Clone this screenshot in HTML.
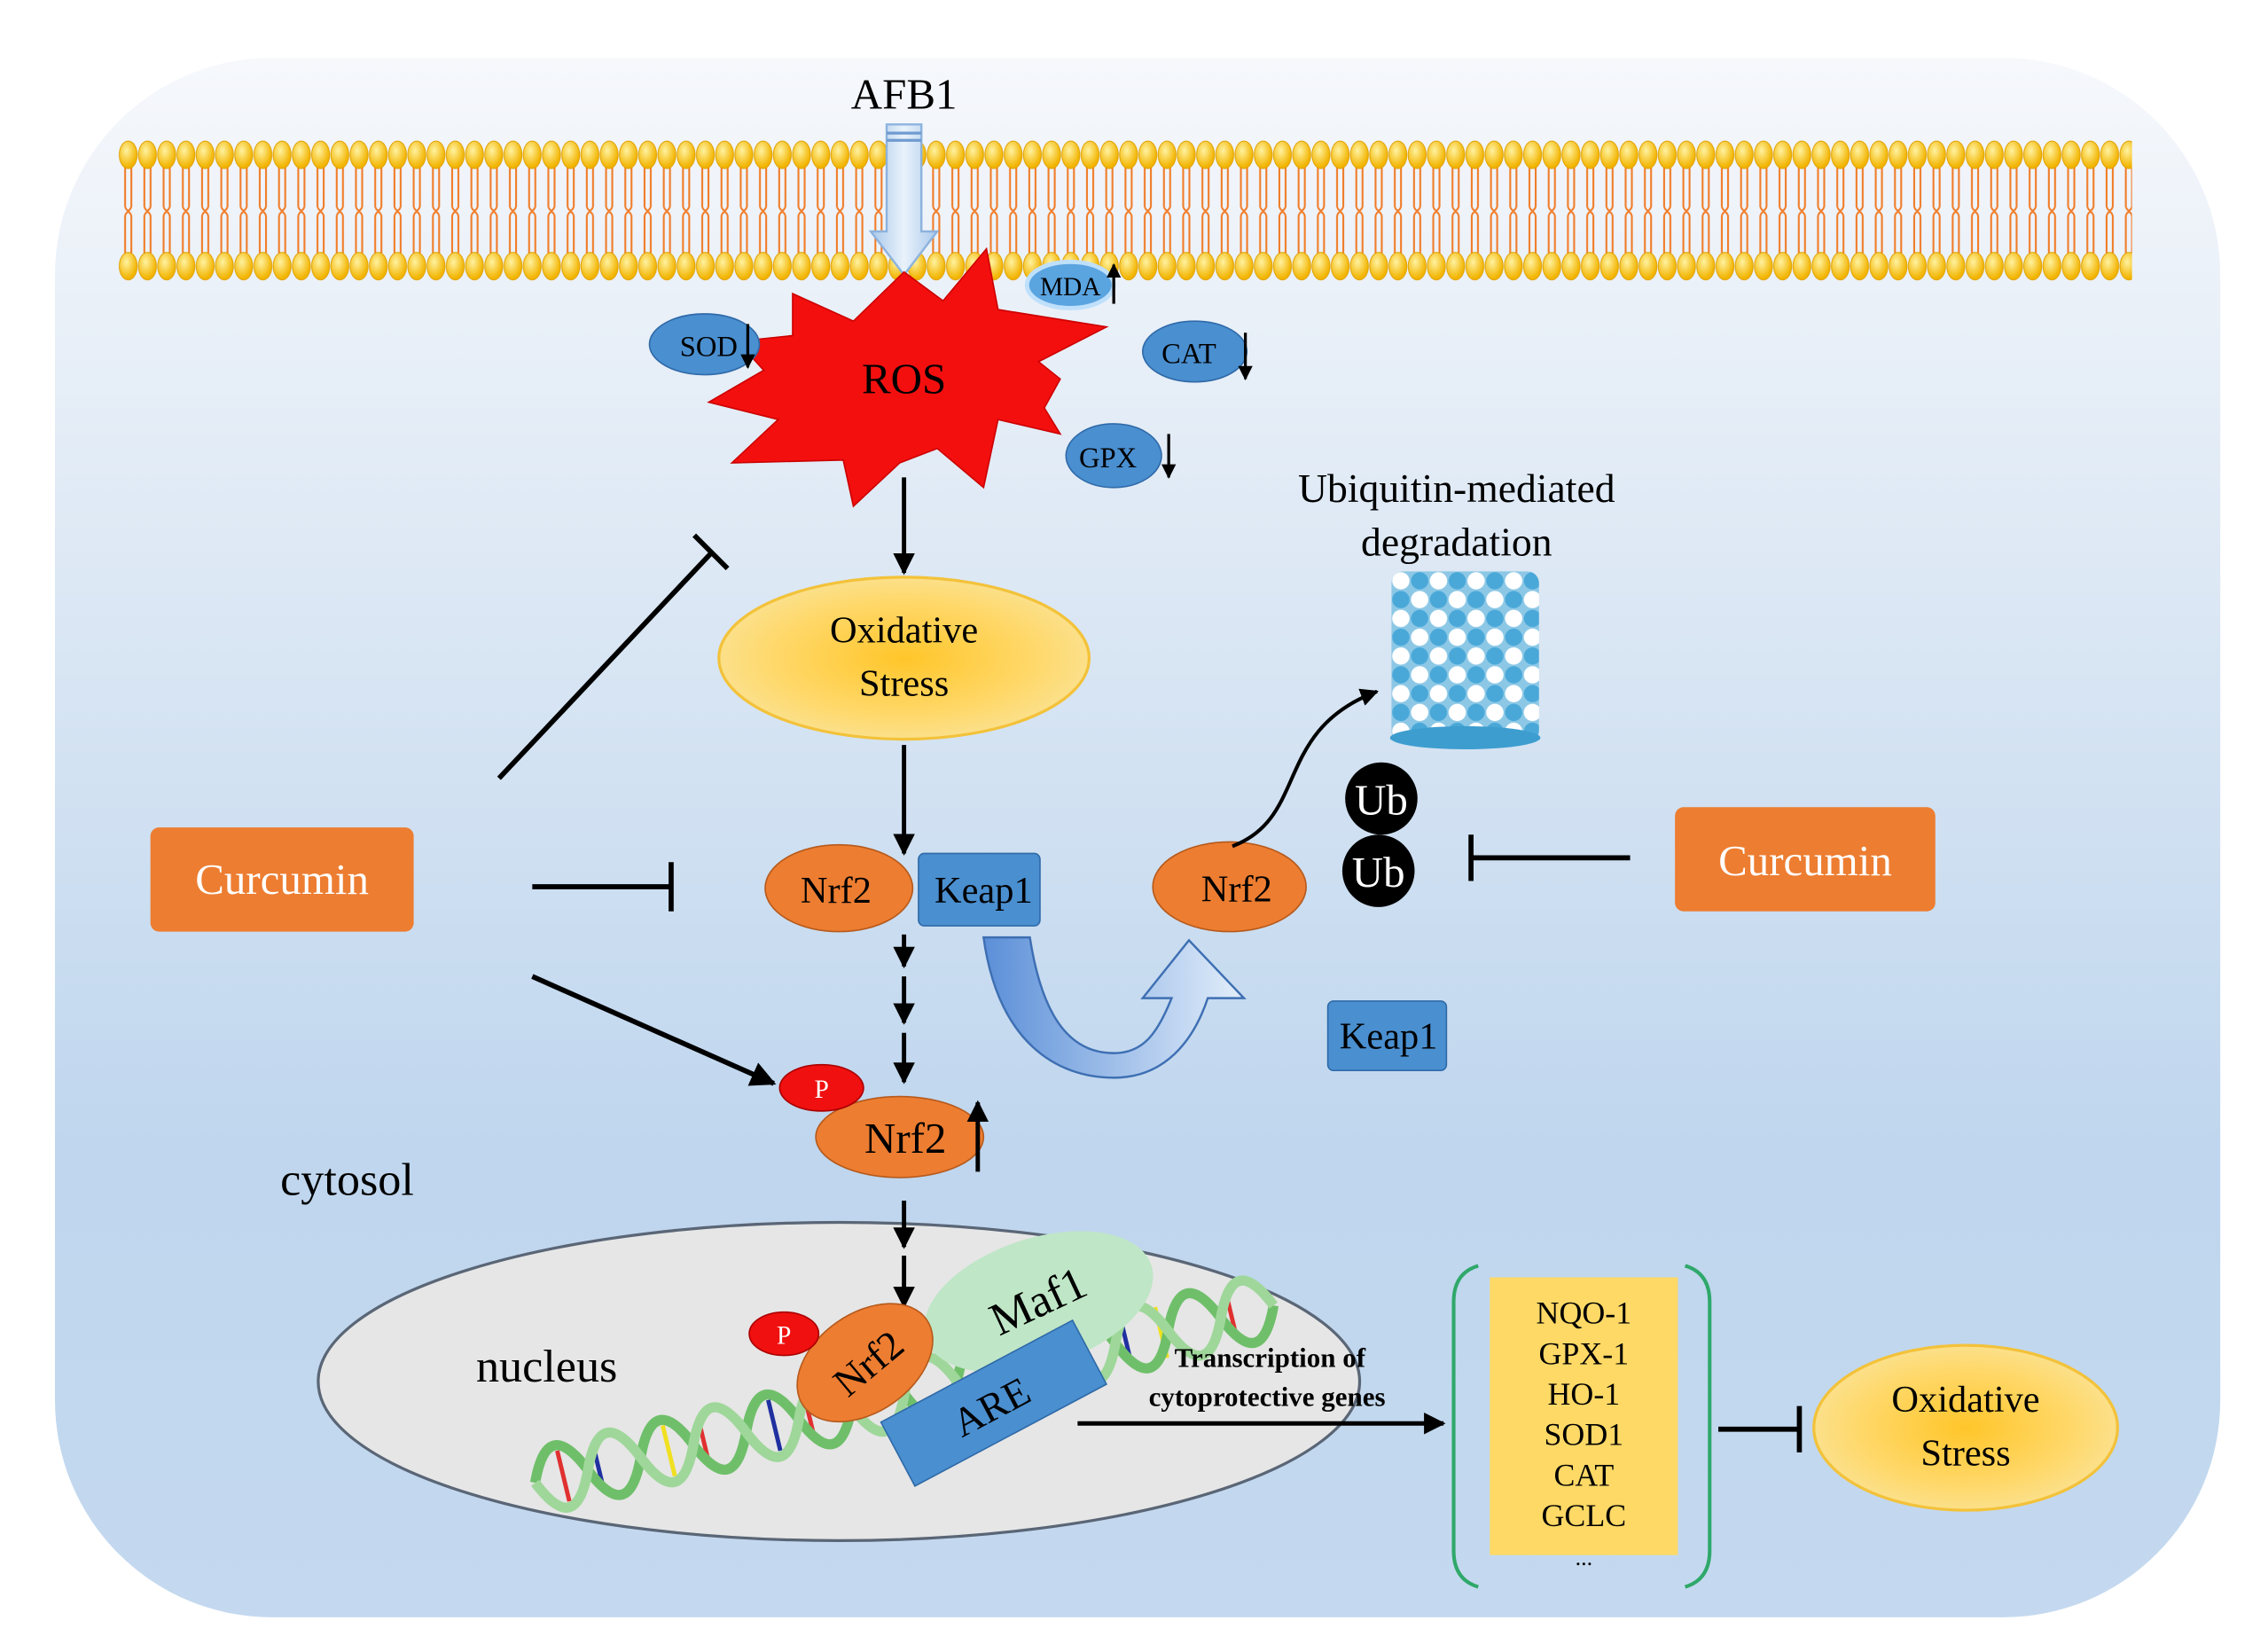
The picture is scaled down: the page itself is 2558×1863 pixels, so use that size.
<!DOCTYPE html>
<html><head><meta charset="utf-8"><style>
html,body{margin:0;padding:0;background:#fff;}
svg{display:block;}
text{font-family:"Liberation Serif",serif;}
</style></head><body>
<svg width="2558" height="1863" viewBox="0 0 1568 1142" preserveAspectRatio="none" xmlns="http://www.w3.org/2000/svg">
<defs>
<linearGradient id="bg" x1="0" y1="0" x2="0" y2="1">
<stop offset="0" stop-color="#f6f8fc"/><stop offset="0.35" stop-color="#dbe7f4"/><stop offset="0.7" stop-color="#bfd6ee"/><stop offset="1" stop-color="#c4d9ef"/></linearGradient>
<radialGradient id="yel" cx="0.5" cy="0.5" r="0.5"><stop offset="0" stop-color="#ffc62a"/><stop offset="0.7" stop-color="#ffd86a"/><stop offset="1" stop-color="#fbe08a"/></radialGradient>
<radialGradient id="head" cx="0.4" cy="0.35" r="0.6"><stop offset="0" stop-color="#fff2a0"/><stop offset="1" stop-color="#f2b400"/></radialGradient>
<linearGradient id="arr" x1="0" y1="0" x2="1" y2="0"><stop offset="0" stop-color="#a9c8ea"/><stop offset="0.5" stop-color="#e9f2fb"/><stop offset="1" stop-color="#a9c8ea"/></linearGradient>
<linearGradient id="curv" x1="0" y1="0" x2="1" y2="0"><stop offset="0" stop-color="#5b8fd8"/><stop offset="1" stop-color="#e3eefa"/></linearGradient>
<pattern id="mem" x="82" y="95" width="13.3" height="102" patternUnits="userSpaceOnUse">
<path d="M4.5,18 L4.5,48 M8.8,18 L8.8,48 M4.5,54 L4.5,84 M8.8,54 L8.8,84 M4.5,48 Q6.6,53 8.8,48 M4.5,54 Q6.6,49 8.8,54" stroke="#f07d2a" stroke-width="1.3" fill="none"/>
<ellipse cx="6.65" cy="12" rx="6.2" ry="9.5" fill="url(#head)" stroke="#e0a000" stroke-width="0.6"/>
<ellipse cx="6.65" cy="89" rx="6.2" ry="9.5" fill="url(#head)" stroke="#e0a000" stroke-width="0.6"/>
</pattern>
<pattern id="balls" x="962" y="395" width="26" height="26" patternUnits="userSpaceOnUse">
<rect width="26" height="26" fill="#8cc8e6"/>
<circle cx="6.5" cy="6.5" r="6" fill="#fff"/><circle cx="19.5" cy="6.5" r="6" fill="#4aa8d8"/>
<circle cx="6.5" cy="19.5" r="6" fill="#4aa8d8"/><circle cx="19.5" cy="19.5" r="6" fill="#fff"/>
</pattern>
<marker id="ah" viewBox="0 0 10 10" refX="9" refY="5" markerWidth="5" markerHeight="5" orient="auto"><path d="M0,0 L10,5 L0,10 z" fill="#000"/></marker>
</defs>
<rect width="1568" height="1142" fill="#fff"/>
<rect x="38" y="40" width="1497" height="1078" rx="150" ry="150" fill="url(#bg)"/>
<rect x="82" y="95" width="1392" height="102" fill="url(#mem)"/>
<text x="625" y="75" font-size="30" text-anchor="middle">AFB1</text>
<path d="M613,86 H637 V160 H648 L625,190 L602,160 H613 Z" fill="url(#arr)" stroke="#8db3de" stroke-width="1.5"/>
<path d="M613,92 H637 M613,97 H637" stroke="#6f9bd0" stroke-width="2"/>
<polygon points="548,203 590,222 625,188 652,208 682,172 690,214 765,226 718,250 733,262 722,282 733,300 690,290 680,337 648,310 622,320 590,350 583,318 506,320 538,290 490,278 528,256 510,236 548,232" fill="#f40f0f" stroke="#c00" stroke-width="1"/>
<text x="625" y="272" font-size="30" text-anchor="middle">ROS</text>
<ellipse cx="487" cy="238" rx="38" ry="21" fill="#4a8fd0" stroke="#2f6aa8"/>
<text x="490" y="246" font-size="20" text-anchor="middle">SOD</text>
<line x1="517" y1="224" x2="517" y2="254" stroke="#000" stroke-width="2" marker-end="url(#ah)"/>
<ellipse cx="740" cy="197" rx="30" ry="16" fill="#5aa4e0" stroke="#bfe0fb" stroke-width="3"/>
<text x="740" y="204" font-size="18" text-anchor="middle">MDA</text>
<line x1="770" y1="210" x2="770" y2="183" stroke="#000" stroke-width="2" marker-end="url(#ah)"/>
<ellipse cx="826" cy="243" rx="36" ry="21" fill="#4a8fd0" stroke="#2f6aa8"/>
<text x="822" y="251" font-size="20" text-anchor="middle">CAT</text>
<line x1="861" y1="230" x2="861" y2="262" stroke="#000" stroke-width="2" marker-end="url(#ah)"/>
<ellipse cx="770" cy="315" rx="33" ry="22" fill="#4a8fd0" stroke="#2f6aa8"/>
<text x="766" y="323" font-size="20" text-anchor="middle">GPX</text>
<line x1="808" y1="300" x2="808" y2="330" stroke="#000" stroke-width="2" marker-end="url(#ah)"/>
<line x1="625" y1="330" x2="625" y2="396" stroke="#000" stroke-width="3" marker-end="url(#ah)"/>
<ellipse cx="625" cy="455" rx="128" ry="56" fill="url(#yel)" stroke="#f3c23a" stroke-width="2"/>
<text x="625" y="444" font-size="26" text-anchor="middle">Oxidative</text>
<text x="625" y="481" font-size="26" text-anchor="middle">Stress</text>
<line x1="625" y1="515" x2="625" y2="590" stroke="#000" stroke-width="3" marker-end="url(#ah)"/>
<ellipse cx="580" cy="614" rx="51" ry="30" fill="#ed7d31" stroke="#b65a1c"/>
<text x="578" y="624" font-size="26" text-anchor="middle">Nrf2</text>
<rect x="635" y="590" width="84" height="50" rx="4" fill="#4a8fd0" stroke="#2f6aa8"/>
<text x="680" y="624" font-size="26" text-anchor="middle">Keap1</text>
<rect x="104" y="572" width="182" height="72" rx="6" fill="#ed7d31"/>
<text x="195" y="618" font-size="30" fill="#fff" text-anchor="middle">Curcumin</text>
<line x1="345" y1="538" x2="492" y2="382" stroke="#000" stroke-width="3.5"/>
<line x1="480" y1="370" x2="503" y2="393" stroke="#000" stroke-width="3.5"/>
<line x1="368" y1="613" x2="464" y2="613" stroke="#000" stroke-width="3.5"/>
<line x1="464" y1="596" x2="464" y2="630" stroke="#000" stroke-width="3.5"/>
<line x1="368" y1="675" x2="535" y2="749" stroke="#000" stroke-width="3.5" marker-end="url(#ah)"/>
<line x1="625" y1="646" x2="625" y2="668" stroke="#000" stroke-width="3" marker-end="url(#ah)"/>
<line x1="625" y1="675" x2="625" y2="707" stroke="#000" stroke-width="3" marker-end="url(#ah)"/>
<line x1="625" y1="714" x2="625" y2="748" stroke="#000" stroke-width="3" marker-end="url(#ah)"/>
<ellipse cx="622" cy="786" rx="58" ry="28" fill="#ed7d31" stroke="#b65a1c"/>
<text x="626" y="797" font-size="30" text-anchor="middle">Nrf2</text>
<ellipse cx="568" cy="752" rx="29" ry="16" fill="#f01010" stroke="#a00"/>
<text x="568" y="759" font-size="18" fill="#fff" text-anchor="middle">P</text>
<line x1="676" y1="810" x2="676" y2="762" stroke="#000" stroke-width="3" marker-end="url(#ah)"/>
<text x="240" y="826" font-size="32" text-anchor="middle">cytosol</text>
<path d="M680,648 C690,720 730,745 770,745 C805,745 825,720 835,690 L860,690 L822,650 L790,690 L810,690 C800,715 790,728 770,728 C738,728 720,700 712,648 Z" fill="url(#curv)" stroke="#3e6fb3" stroke-width="1.5"/>
<ellipse cx="850" cy="613" rx="53" ry="31" fill="#ed7d31" stroke="#b65a1c"/>
<text x="855" y="623" font-size="26" text-anchor="middle">Nrf2</text>
<circle cx="955" cy="552" r="25" fill="#000"/>
<text x="955" y="563" font-size="30" fill="#fff" text-anchor="middle">Ub</text>
<circle cx="953" cy="602" r="25" fill="#000"/>
<text x="953" y="613" font-size="30" fill="#fff" text-anchor="middle">Ub</text>
<path d="M852,585 C905,565 880,505 952,478" stroke="#000" stroke-width="2.5" fill="none" marker-end="url(#ah)"/>
<line x1="1127" y1="593" x2="1017" y2="593" stroke="#000" stroke-width="3.5"/>
<line x1="1017" y1="577" x2="1017" y2="609" stroke="#000" stroke-width="3.5"/>
<rect x="1158" y="558" width="180" height="72" rx="6" fill="#ed7d31"/>
<text x="1248" y="605" font-size="30" fill="#fff" text-anchor="middle">Curcumin</text>
<rect x="918" y="692" width="82" height="48" rx="4" fill="#4a8fd0" stroke="#2f6aa8"/>
<text x="960" y="725" font-size="26" text-anchor="middle">Keap1</text>
<text x="1007" y="347" font-size="28" text-anchor="middle">Ubiquitin-mediated</text>
<text x="1007" y="384" font-size="28" text-anchor="middle">degradation</text>
<rect x="962" y="395" width="102" height="118" rx="8" fill="url(#balls)"/>
<ellipse cx="1013" cy="510" rx="52" ry="8" fill="#3d9dcf"/>
<ellipse cx="580" cy="955" rx="360" ry="110" fill="#e6e6e6" stroke="#5a6676" stroke-width="2"/>
<line x1="625" y1="830" x2="625" y2="862" stroke="#000" stroke-width="3" marker-end="url(#ah)"/>
<line x1="625" y1="868" x2="625" y2="903" stroke="#000" stroke-width="3" marker-end="url(#ah)"/>
<text x="378" y="955" font-size="32" text-anchor="middle">nucleus</text>
<g transform="translate(370,1025) rotate(-13.5)">
<g stroke-width="3">
<line x1="20" y1="-18" x2="20" y2="18" stroke="#e03030"/><line x1="45" y1="-18" x2="45" y2="18" stroke="#2030a0"/>
<line x1="95" y1="-18" x2="95" y2="18" stroke="#f0e020"/><line x1="120" y1="-18" x2="120" y2="18" stroke="#e03030"/>
<line x1="170" y1="-18" x2="170" y2="18" stroke="#2030a0"/><line x1="195" y1="-18" x2="195" y2="18" stroke="#e03030"/>
<line x1="420" y1="-18" x2="420" y2="18" stroke="#2030a0"/><line x1="445" y1="-18" x2="445" y2="18" stroke="#f0e020"/>
<line x1="495" y1="-18" x2="495" y2="18" stroke="#e03030"/>
</g>
<path d="M0,0 Q18.75,-44 37.5,0 T75,0 T112.5,0 T150,0 T187.5,0 T225,0 T262.5,0 T300,0 T337.5,0 T375,0 T412.5,0 T450,0 T487.5,0 T525,0" stroke="#6fbf6a" stroke-width="7" fill="none"/>
<path d="M0,0 Q18.75,44 37.5,0 T75,0 T112.5,0 T150,0 T187.5,0 T225,0 T262.5,0 T300,0 T337.5,0 T375,0 T412.5,0 T450,0 T487.5,0 T525,0" stroke="#9fd79a" stroke-width="7" fill="none"/>
</g>
<ellipse cx="718" cy="900" rx="82" ry="44" transform="rotate(-18 718 900)" fill="#bfe6c6"/>
<text x="718" y="910" font-size="32" text-anchor="middle" transform="rotate(-25 718 900)">Maf1</text>
<rect x="612" y="945" width="150" height="50" transform="rotate(-28 687 970)" fill="#4a8fd0" stroke="#2f6aa8"/>
<text x="685" y="982" font-size="28" text-anchor="middle" transform="rotate(-28 685 972)">ARE</text>
<ellipse cx="598" cy="942" rx="52" ry="34" transform="rotate(-35 598 942)" fill="#ed7d31" stroke="#b65a1c"/>
<text x="600" y="952" font-size="28" text-anchor="middle" transform="rotate(-40 600 942)">Nrf2</text>
<ellipse cx="542" cy="922" rx="24" ry="15" fill="#f01010" stroke="#a00"/>
<text x="542" y="929" font-size="18" fill="#fff" text-anchor="middle">P</text>
<text x="878" y="945" font-size="19" font-weight="bold" text-anchor="middle">Transcription of</text>
<text x="876" y="972" font-size="19" font-weight="bold" text-anchor="middle">cytoprotective genes</text>
<line x1="745" y1="984" x2="998" y2="984" stroke="#000" stroke-width="3" marker-end="url(#ah)"/>
<rect x="1030" y="883" width="130" height="192" fill="#fed966"/>
<path d="M1022,875 Q1005,880 1005,900 L1005,1072 Q1005,1092 1022,1097" stroke="#2fa86a" stroke-width="2.5" fill="none"/>
<path d="M1165,875 Q1182,880 1182,900 L1182,1072 Q1182,1092 1165,1097" stroke="#2fa86a" stroke-width="2.5" fill="none"/>
<g font-size="22" text-anchor="middle">
<text x="1095" y="915">NQO-1</text><text x="1095" y="943">GPX-1</text><text x="1095" y="971">HO-1</text>
<text x="1095" y="999">SOD1</text><text x="1095" y="1027">CAT</text><text x="1095" y="1055">GCLC</text>
<text x="1095" y="1082" font-size="16">...</text></g>
<line x1="1188" y1="988" x2="1244" y2="988" stroke="#000" stroke-width="3.5"/>
<line x1="1244" y1="972" x2="1244" y2="1004" stroke="#000" stroke-width="3.5"/>
<ellipse cx="1359" cy="987" rx="105" ry="57" fill="url(#yel)" stroke="#f3c23a" stroke-width="2"/>
<text x="1359" y="976" font-size="26" text-anchor="middle">Oxidative</text>
<text x="1359" y="1013" font-size="26" text-anchor="middle">Stress</text>
</svg>
</body></html>
